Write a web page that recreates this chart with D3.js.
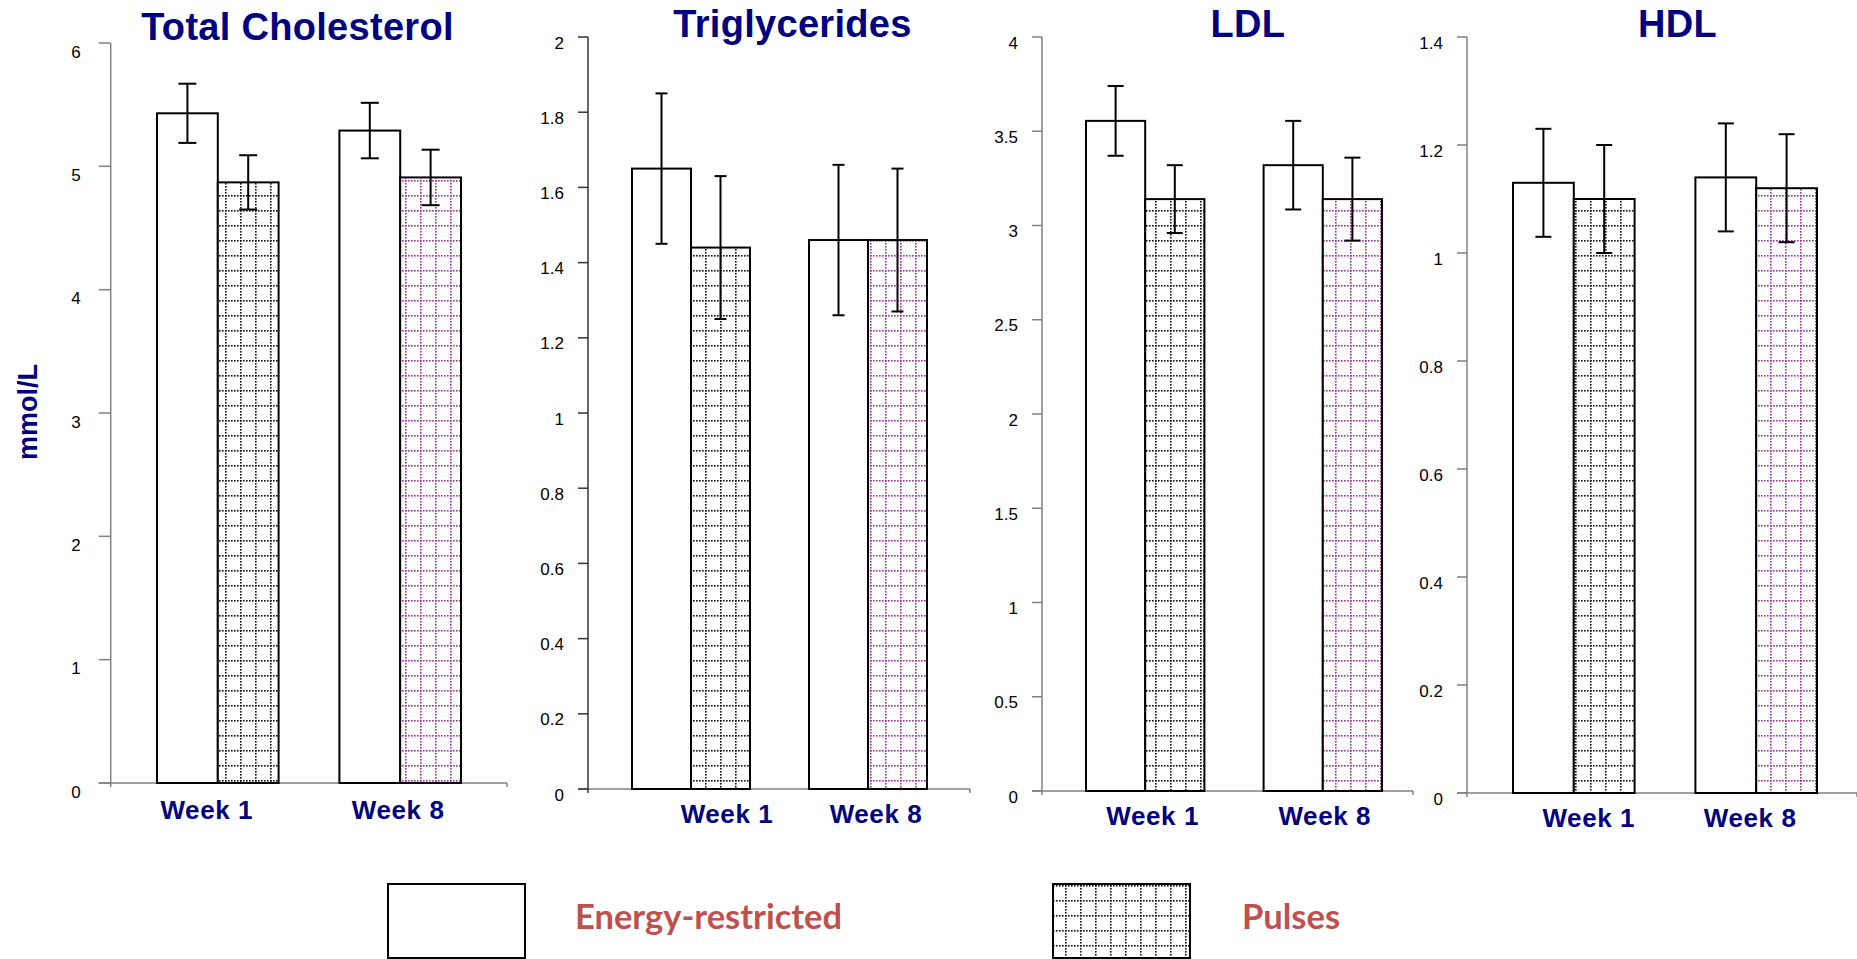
<!DOCTYPE html>
<html>
<head>
<meta charset="utf-8">
<script src="https://cdn.jsdelivr.net/npm/d3@7"></script>
<style>
  body { margin: 0; background: #fff; }
  svg { display: block; }
</style>
</head>
<body>
<script>
// panel titles, categories and series
const panelTitles = ["Total Cholesterol", "Triglycerides", "LDL", "HDL"];
const weeks = ["Week 1", "Week 8"];
const seriesNames = ["Energy-restricted", "Pulses"];

// means and error bars, [panel][week]
const energyMeans = [[5.43, 5.29], [1.65, 1.46], [3.555, 3.32], [1.13, 1.14]];
const energyErr   = [[0.24, 0.225], [0.20, 0.20], [0.185, 0.235], [0.10, 0.10]];
const pulsesMeans = [[4.87, 4.91], [1.44, 1.46], [3.14, 3.14], [1.10, 1.12]];
const pulsesErr   = [[0.22, 0.225], [0.19, 0.19], [0.18, 0.22], [0.10, 0.10]];

// y axes
const yMax = [6, 2, 4, 1.4];
const yTicks = [
  [0, 1, 2, 3, 4, 5, 6],
  [0, 0.2, 0.4, 0.6, 0.8, 1, 1.2, 1.4, 1.6, 1.8, 2],
  [0, 0.5, 1, 1.5, 2, 2.5, 3, 3.5, 4],
  [0, 0.2, 0.4, 0.6, 0.8, 1, 1.2, 1.4]
];
const yUnit = "mmol/L";

// where each panel sits on the page
const layout = [
  {axisX: 110.7, top: 43, base: 783, end: 507,  g0: 157,  g1: 461,  tick: 12, gap: 18, dy: 9, cap: 9, titleX: 297.5, titleY: 40, weekY: 819, weekShift: [-11, -2], axisColor: "#808080"},
  {axisX: 588,   top: 37, base: 789, end: 970,  g0: 632,  g1: 927,  tick: 10, gap: 14, dy: 6, cap: 6, titleX: 792.5, titleY: 37, weekY: 823, weekShift: [36, 8],  axisColor: "#333"},
  {axisX: 1042,  top: 37, base: 791, end: 1413, g0: 1086, g1: 1382, tick: 10, gap: 14, dy: 6, cap: 8, titleX: 1248,  titleY: 37, weekY: 825, weekShift: [7.5, 2], axisColor: "#808080"},
  {axisX: 1467,  top: 37, base: 793, end: 1857, g0: 1513, g1: 1817, tick: 10, gap: 14, dy: 6, cap: 8, titleX: 1677.5, titleY: 37, weekY: 827, weekShift: [15, -6], axisColor: "#808080"}
];

const navy = "#000080";
const legendRed = "#C0504D";

const svg = d3.select("body").append("svg")
  .attr("width", 1857)
  .attr("height", 959);

// dotted grid patterns
const defs = svg.append("defs");
function makeGrid(id, color) {
  const p = defs.append("pattern")
    .attr("id", id)
    .attr("patternUnits", "userSpaceOnUse")
    .attr("width", 15)
    .attr("height", 15);
  p.append("rect").attr("width", 15).attr("height", 15).attr("fill", "#fff");
  d3.range(5).forEach(i => {
    p.append("rect").attr("x", i * 3).attr("y", 0).attr("width", 1.6).attr("height", 1.6).attr("fill", color);
    p.append("rect").attr("x", 0).attr("y", i * 3).attr("width", 1.6).attr("height", 1.6).attr("fill", color);
  });
}
makeGrid("gridBlack", "#111");
makeGrid("gridPurple", "#993399");
const pulseFill = ["url(#gridBlack)", "url(#gridPurple)"];

panelTitles.forEach((title, pi) => {
  const L = layout[pi];
  const g = svg.append("g");

  const y = d3.scaleLinear().domain([0, yMax[pi]]).range([L.base, L.top]);
  const x0 = d3.scaleBand().domain(weeks).range([L.g0, L.g1]).paddingInner(1 / 3);
  const x1 = d3.scaleBand().domain(seriesNames).range([0, x0.bandwidth()]);

  // title
  g.append("text")
    .attr("x", L.titleX).attr("y", L.titleY)
    .attr("text-anchor", "middle")
    .attr("font-family", "'Liberation Sans', Arial, sans-serif")
    .attr("font-weight", "bold")
    .attr("font-size", 38)
    .attr("letter-spacing", 0.3)
    .attr("fill", navy)
    .text(title);

  // baseline with end ticks
  g.append("line")
    .attr("x1", L.axisX - L.tick).attr("x2", L.end)
    .attr("y1", y(0)).attr("y2", y(0))
    .attr("stroke", "#808080").attr("stroke-width", 1.5);
  g.append("line")
    .attr("x1", L.end).attr("x2", L.end)
    .attr("y1", y(0)).attr("y2", y(0) + 4)
    .attr("stroke", "#808080").attr("stroke-width", 1.5);

  // y axis
  g.append("line")
    .attr("x1", L.axisX).attr("x2", L.axisX)
    .attr("y1", y(yMax[pi])).attr("y2", y(0) + 4)
    .attr("stroke", L.axisColor).attr("stroke-width", 1.5);
  yTicks[pi].forEach(t => {
    g.append("line")
      .attr("x1", L.axisX - L.tick).attr("x2", L.axisX)
      .attr("y1", y(t)).attr("y2", y(t))
      .attr("stroke", L.axisColor).attr("stroke-width", 1.5);
    g.append("text")
      .attr("x", L.axisX - L.tick - L.gap)
      .attr("y", y(t) + L.dy)
      .attr("text-anchor", "end")
      .attr("dominant-baseline", "central")
      .attr("font-family", "'Liberation Sans', Arial, sans-serif")
      .attr("font-size", 17)
      .attr("fill", "#000")
      .text(t);
  });

  // bars
  weeks.forEach((w, wi) => {
    const vals = [
      {s: seriesNames[0], m: energyMeans[pi][wi], e: energyErr[pi][wi], fill: "#fff"},
      {s: seriesNames[1], m: pulsesMeans[pi][wi], e: pulsesErr[pi][wi], fill: pulseFill[wi]}
    ];
    const gx = x0(w);
    vals.forEach(v => {
      const bx = gx + x1(v.s);
      g.append("rect")
        .attr("x", bx).attr("y", y(v.m))
        .attr("width", x1.bandwidth())
        .attr("height", y(0) - y(v.m))
        .attr("fill", v.fill)
        .attr("stroke", "#000").attr("stroke-width", 2);
    });
    // error bars on top
    vals.forEach(v => {
      const cx = gx + x1(v.s) + x1.bandwidth() / 2;
      const eb = g.append("g").attr("stroke", "#000").attr("stroke-width", 2);
      eb.append("line").attr("x1", cx).attr("x2", cx).attr("y1", y(v.m + v.e)).attr("y2", y(v.m - v.e));
      eb.append("line").attr("x1", cx - L.cap).attr("x2", cx + L.cap).attr("y1", y(v.m + v.e)).attr("y2", y(v.m + v.e));
      eb.append("line").attr("x1", cx - L.cap).attr("x2", cx + L.cap).attr("y1", y(v.m - v.e)).attr("y2", y(v.m - v.e));
    });
    // week label
    g.append("text")
      .attr("x", gx + x0.bandwidth() / 2 + L.weekShift[wi])
      .attr("y", L.weekY)
      .attr("text-anchor", "middle")
      .attr("font-family", "'Liberation Sans', Arial, sans-serif")
      .attr("font-weight", "bold")
      .attr("font-size", 26)
      .attr("letter-spacing", 0.6)
      .attr("fill", navy)
      .text(w);
  });
});

// y unit label
svg.append("text")
  .attr("transform", "translate(37,412) rotate(-90)")
  .attr("text-anchor", "middle")
  .attr("font-family", "'Liberation Sans', Arial, sans-serif")
  .attr("font-weight", "bold")
  .attr("font-size", 27)
  .attr("fill", navy)
  .text(yUnit);

// legend
const legendItems = [
  {name: seriesNames[0], fill: "#fff", boxX: 388, textX: 575},
  {name: seriesNames[1], fill: "url(#gridBlack)", boxX: 1053, textX: 1242}
];
legendItems.forEach(d => {
  svg.append("rect")
    .attr("x", d.boxX).attr("y", 884)
    .attr("width", 137).attr("height", 74)
    .attr("fill", d.fill)
    .attr("stroke", "#000").attr("stroke-width", 2);
  svg.append("text")
    .attr("x", d.textX).attr("y", 929)
    .attr("font-family", "Lato, 'Open Sans', sans-serif")
    .attr("font-weight", "bold")
    .attr("font-size", 34.5)
    .attr("fill", legendRed)
    .text(d.name);
});
</script>
</body>
</html>
